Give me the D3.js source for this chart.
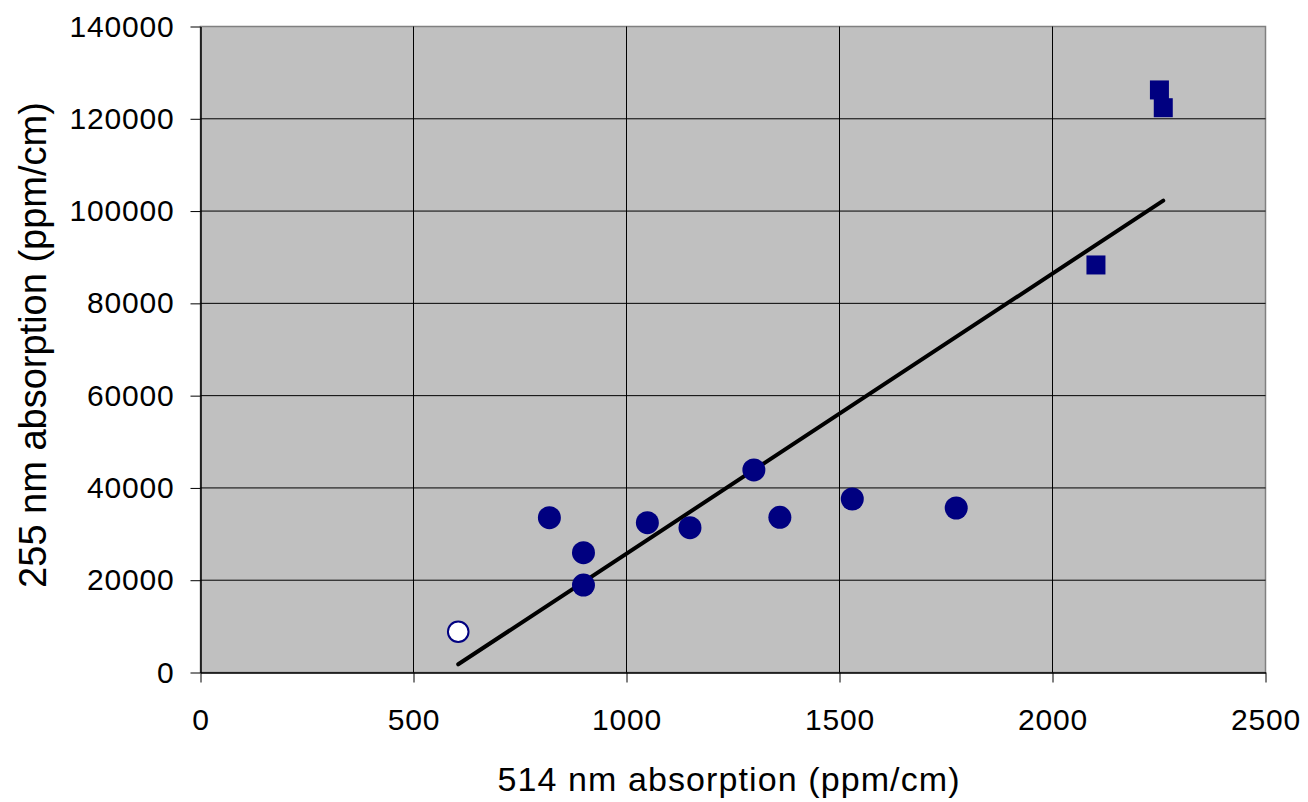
<!DOCTYPE html>
<meta charset="utf-8">
<style>
body { margin: 0; background: #fff; }
text { font-family: "Liberation Sans", Arial, sans-serif; fill: #000; }
.grid line { stroke: #000; stroke-width: 1px; }
</style>
<svg width="1308" height="802"></svg>
<script src="https://cdn.jsdelivr.net/npm/d3@7"></script>
<script>

// filled circles (ppm/cm)
var circleX = [819, 899, 899, 1049, 1149, 1299, 1360, 1530, 1774],
    circleY = [33550, 25960, 18960, 32470, 31390, 43890, 33640, 37600, 35650];

// open circle
var openX = [605],
    openY = [8840];

// squares
var squareX = [2251, 2260, 2102],
    squareY = [126250, 122400, 88320];

// fitted line ends
var fitX = [605, 2260],
    fitY = [1780, 102250];

var xTicks = [0, 500, 1000, 1500, 2000, 2500],
    yTicks = [0, 20000, 40000, 60000, 80000, 100000, 120000, 140000];

var svg = d3.select("svg"),
    margin = {top: 26.5, right: 42.5, bottom: 129.5, left: 200.5},
    width = 1308 - margin.left - margin.right,
    height = 802 - margin.top - margin.bottom,
    g = svg.append("g").attr("transform", "translate(" + margin.left + "," + margin.top + ")");

var x = d3.scaleLinear().domain([0, 2500]).range([0, width]);
var y = d3.scaleLinear().domain([0, 140000]).range([height, 0]);

g.append("rect")
    .attr("width", width)
    .attr("height", height)
    .attr("fill", "#c0c0c0")
    .attr("stroke", "#808080")
    .attr("stroke-width", 1.5);

var grid = g.append("g").attr("class", "grid");
grid.selectAll(".gx")
  .data(xTicks.slice(1, -1))
  .enter().append("line")
    .attr("x1", function(d) { return x(d); })
    .attr("x2", function(d) { return x(d); })
    .attr("y1", 0)
    .attr("y2", height);
grid.selectAll(".gy")
  .data(yTicks.slice(1, -1))
  .enter().append("line")
    .attr("x1", 0)
    .attr("x2", width)
    .attr("y1", function(d) { return y(d); })
    .attr("y2", function(d) { return y(d); });

var xAxis = g.append("g")
    .attr("transform", "translate(0," + height + ")")
    .call(d3.axisBottom(x).tickValues(xTicks).tickSize(10).tickPadding(26).tickSizeOuter(0).tickFormat(d3.format("d")));
var yAxis = g.append("g")
    .call(d3.axisLeft(y).tickValues(yTicks).tickSize(10).tickPadding(16).tickSizeOuter(0).tickFormat(d3.format("d")));

[xAxis, yAxis].forEach(function(a) {
  a.select(".domain").attr("stroke", "#000").attr("stroke-width", 1.5);
  a.selectAll(".tick line").attr("stroke", "#000");
  a.selectAll(".tick text")
      .style("font-family", "'Liberation Sans', Arial, sans-serif")
      .style("font-size", "30px")
      .style("letter-spacing", "0.8px")
      .attr("fill", "#000");
});
xAxis.selectAll(".tick text").attr("dy", "0.71em");

// fit line
g.append("path")
    .datum(d3.zip(fitX, fitY))
    .attr("fill", "none")
    .attr("stroke", "#000")
    .attr("stroke-width", 4)
    .attr("stroke-linecap", "round")
    .attr("d", d3.line().x(function(d) { return x(d[0]); }).y(function(d) { return y(d[1]); }));

g.selectAll(".dot")
  .data(d3.zip(circleX, circleY))
  .enter().append("circle")
    .attr("cx", function(d) { return x(d[0]); })
    .attr("cy", function(d) { return y(d[1]); })
    .attr("r", 11.5)
    .attr("fill", "#000080");

g.selectAll(".open")
  .data(d3.zip(openX, openY))
  .enter().append("circle")
    .attr("cx", function(d) { return x(d[0]); })
    .attr("cy", function(d) { return y(d[1]); })
    .attr("r", 10.3)
    .attr("fill", "#fff")
    .attr("stroke", "#000080")
    .attr("stroke-width", 2);

g.selectAll(".sq")
  .data(d3.zip(squareX, squareY))
  .enter().append("rect")
    .attr("x", function(d) { return x(d[0]) - 9.5; })
    .attr("y", function(d) { return y(d[1]) - 9.5; })
    .attr("width", 19)
    .attr("height", 19)
    .attr("fill", "#000080");

svg.append("text")
    .attr("x", 729)
    .attr("y", 791)
    .attr("text-anchor", "middle")
    .style("font-size", "34px")
    .style("letter-spacing", "1.1px")
    .text("514 nm absorption (ppm/cm)");

svg.append("text")
    .attr("transform", "translate(46,345) rotate(-90)")
    .attr("text-anchor", "middle")
    .style("font-size", "38px")
    .text("255 nm absorption (ppm/cm)");

</script>
